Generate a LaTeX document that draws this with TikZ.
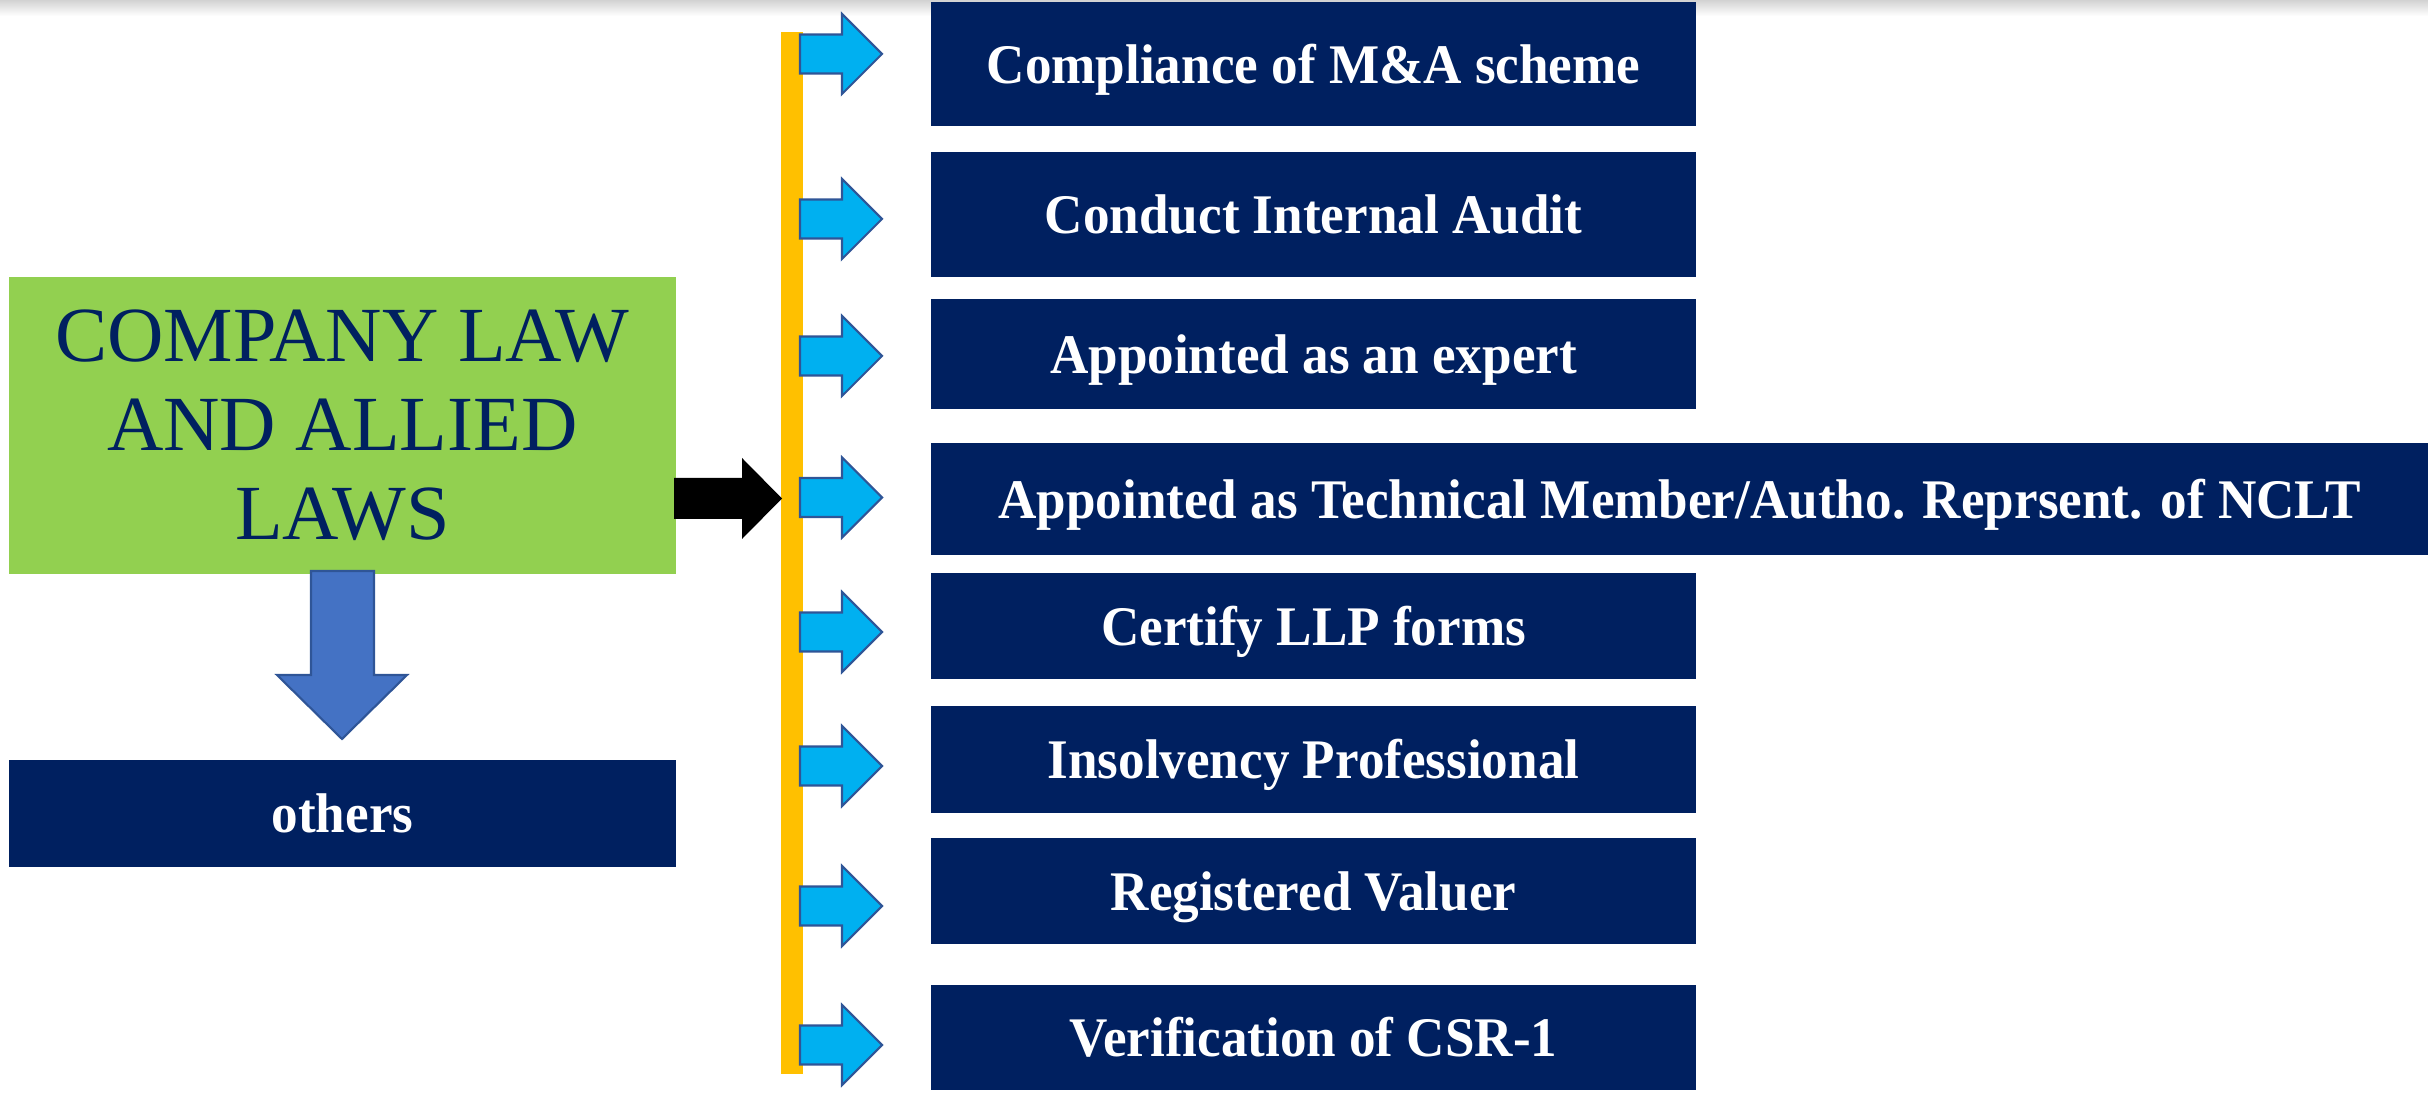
\documentclass[tikz,border=0pt]{standalone}
\usepackage{fontspec}
\setmainfont{Liberation Serif}[FakeStretch=0.95]
\newfontfamily\lawfont{Liberation Serif}

\definecolor{navy}{HTML}{002060}
\definecolor{lawgreen}{HTML}{92D050}
\definecolor{baryellow}{HTML}{FFC000}
\definecolor{tickcyan}{HTML}{00B0F0}
\definecolor{downblue}{HTML}{4472C4}
\definecolor{rimblue}{HTML}{2F5597}

\begin{document}
\begin{tikzpicture}[x=0.01cm, y=-0.01cm,
  role/.style={fill=navy, text=white, inner sep=0pt, font=\bfseries\fontsize{15.9}{19}\selectfont,
    text height=1.2em, text depth=0.1em, minimum width=7.65cm},
  tick/.style={fill=tickcyan, draw=rimblue, line width=0.6pt, line join=miter}]
   \useasboundingbox (0,0) rectangle (2428,1095);
   \shade[top color=gray!35, bottom color=white] (0,0) rectangle (2428,16);

   % left side
   \node[fill=lawgreen, text=navy, inner sep=0pt, minimum width=6.67cm, minimum height=2.97cm,
         align=center, font=\lawfont\fontsize{22.2}{25.3}\selectfont] (law) at (342.5,425.5)
         {COMPANY LAW\\AND ALLIED\\LAWS};
   \node[role, minimum width=6.67cm, minimum height=1.07cm] (others) at (342.5,813.5) {others};
   \draw[fill=downblue, draw=rimblue, line width=0.6pt] (311,571) -- (374,571) -- (374,675) -- (407,675)
        -- (342,739) -- (277,675) -- (311,675) -- cycle;

   % the bar
   \fill[baryellow] (781,32) rectangle (803,1074);
   \fill[black] (674,478) -- (742,478) -- (742,458) -- (782,498.5) -- (742,539) -- (742,519) -- (674,519) -- cycle;

   % roles
   \node[role, minimum height=1.24cm] (scheme) at (1313.5,64) {Compliance of M\&A scheme};
   \node[role, minimum height=1.25cm] (audit) at (1313.5,214.5) {Conduct Internal Audit};
   \node[role, minimum height=1.10cm] (expert) at (1313.5,354) {Appointed as an expert};
   \node[role, minimum width=14.97cm, minimum height=1.12cm] (nclt) at (1679.5,499)
        {Appointed as Technical Member/Autho. Reprsent. of NCLT};
   \node[role, minimum height=1.06cm] (llp) at (1313.5,626) {Certify LLP forms};
   \node[role, minimum height=1.07cm] (ip) at (1313.5,759.5) {Insolvency Professional};
   \node[role, minimum height=1.06cm] (valuer) at (1313.5,891) {Registered Valuer};
   \node[role, minimum height=1.05cm] (csr) at (1313.5,1037.5) {Verification of CSR-1};

   \foreach \y in {54,219,356,497.5,632,766,906,1045}
     \draw[tick] (800,\y) ++(0,19.5) -- ++(42,0) -- ++(0,20.5) -- ++(40,-40) -- ++(-40,-40)
        -- ++(0,20.5) -- ++(-42,0) -- cycle;
\end{tikzpicture}
\end{document}
